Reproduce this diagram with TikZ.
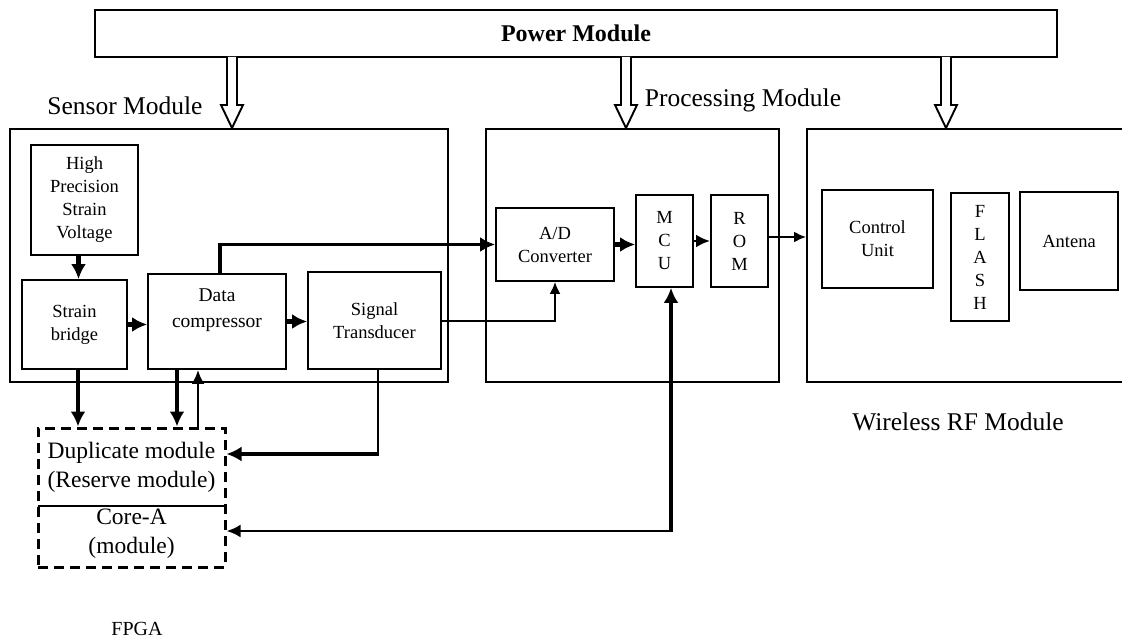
\documentclass[tikz,border=0pt]{standalone}
\usepackage{fontspec}
\setmainfont{Liberation Serif}
\usetikzlibrary{arrows.meta,calc}

\tikzset{
  block/.style={draw, line width=1.8pt, inner sep=0pt, align=center,
    font=\fontsize{18.5}{23}\selectfont},
  module/.style={draw, line width=1.9pt, inner sep=0pt},
  fpgabox/.style={draw, line width=3pt, dash pattern=on 10pt off 6pt, inner sep=0pt},
  lbl/.style={inner sep=0pt, font=\fontsize{25.5}{28}\selectfont},
  thickarr/.style={line width=4.2pt, -{Latex[length=15pt,width=15pt]}},
  midarr/.style={line width=2.8pt, -{Latex[length=14pt,width=13pt]}},
  thinarr/.style={line width=2pt, -{Latex[length=12pt,width=11pt]}},
}

\begin{document}
\begin{tikzpicture}[x=1pt,y=-1pt]
  \useasboundingbox (0,0) rectangle (1122,639);
  \clip (0,0) rectangle (1122,639);

  % power supply and the three modules
  \node[module, minimum width=962pt, minimum height=47pt,
    font=\fontsize{24}{26}\selectfont\bfseries] (power) at (576,33.5) {Power Module};
  \node[module, minimum width=438pt, minimum height=253pt] (sensor) at (229,255.5) {};
  \node[module, minimum width=293pt, minimum height=253pt] (proc) at (632.5,255.5) {};
  \node[module, minimum width=333pt, minimum height=253pt] (wireless) at (973.5,255.5) {};

  \foreach \ax in {232,626,946}
    \draw[line width=1.9pt, fill=white] (\ax-5,57) -- (\ax-5,105) -- (\ax-11,105)
      -- (\ax,128) -- (\ax+11,105) -- (\ax+5,105) -- (\ax+5,57);

  \node[lbl] (senlbl) at (125,106) {Sensor Module};
  \node[lbl] (proclbl) at (743,100) {Processing Module};
  \node[lbl] (wirelbl) at (958,422) {Wireless RF Module};

  % sensor module
  \node[block, minimum width=107pt, minimum height=110pt] (hpsv) at (84.5,200)
    {High\\Precision\\Strain\\Voltage};
  \node[block, minimum width=105pt, minimum height=89pt] (bridge) at (74.5,324.5)
    {Strain\\bridge};
  \node[block, minimum width=138pt, minimum height=95pt, font=\fontsize{19.5}{26}\selectfont]
    (compressor) at (217,321.5) {Data\\compressor\\\mbox{}};
  \node[block, minimum width=133pt, minimum height=97pt] (transducer) at (374.5,320.5)
    {Signal\\Transducer};

  % processing module
  \node[block, minimum width=118pt, minimum height=73pt] (adc) at (555,244.5)
    {A/D\\Converter};
  \node[block, minimum width=57pt, minimum height=92pt] (mcu) at (664.5,241)
    {M\\C\\U};
  \node[block, minimum width=57pt, minimum height=92pt] (rom) at (739.5,241)
    {R\\O\\M};

  % wireless RF module
  \node[block, minimum width=111pt, minimum height=98pt] (ctrl) at (877.5,239)
    {Control\\Unit};
  \node[block, minimum width=58pt, minimum height=128pt] (flash) at (980,257)
    {F\\L\\A\\S\\H};
  \node[block, minimum width=98pt, minimum height=98pt] (antenna) at (1069,241)
    {Antena};

  % FPGA
  \node[fpgabox, minimum width=187pt, minimum height=139pt] (fpga) at (131.5,497.5) {};
  \node[inner sep=0pt, minimum width=187pt, minimum height=78pt, align=center,
    font=\fontsize{23.5}{29}\selectfont] (dup) at (131.5,467)
    {Duplicate module\\(Reserve module)};
  \node[inner sep=0pt, minimum width=187pt, minimum height=61pt, align=center,
    font=\fontsize{23.5}{29}\selectfont] (core) at (131.5,534)
    {Core-A\\(module)};
  \draw[line width=1.9pt] (dup.south west) -- (dup.south east);
  \node[lbl, font=\fontsize{20}{22}\selectfont] (fpgalbl) at (137,629) {FPGA};

  % signal paths
  \draw[thickarr] ([xshift=-6pt]hpsv.south) -- ([xshift=-6pt]hpsv.south |- bridge.north);
  \draw[thickarr] (bridge.east) -- (bridge.east -| compressor.west);
  \draw[thickarr] (compressor.east) -- (compressor.east -| transducer.west);
  \draw[thickarr, line width=3.6pt] ([xshift=3pt]compressor.north) |- (adc.west);
  \draw[thinarr] (transducer.east) -| (adc.south);
  \draw[thickarr] (adc.east) -- (adc.east -| mcu.west);
  \draw[midarr] (mcu.east) -- (mcu.east -| rom.west);
  \draw[thinarr] ([yshift=4pt]rom.east) -- ([yshift=4pt]rom.east -| wireless.west);

  % links to the FPGA
  \draw[thickarr] ([xshift=3.5pt]bridge.south) -- ([xshift=3.5pt]bridge.south |- fpga.north);
  \draw[thickarr] ([xshift=-40pt]compressor.south) -- ([xshift=-40pt]compressor.south |- fpga.north);
  \draw[midarr] ([xshift=-19pt]compressor.south |- fpga.north) -- ([xshift=-19pt]compressor.south);
  \coordinate (tjoin) at (378,454);
  \draw[line width=2pt] (tjoin |- transducer.south) -- (tjoin);
  \draw[thickarr, line width=4.8pt] ([xshift=1pt]tjoin) -- (tjoin -| fpga.east);
  \coordinate (mjoin) at (671,531);
  \draw[thickarr, line width=3.8pt] ([yshift=1.4pt]mjoin) -- (mjoin |- mcu.south);
  \draw[midarr] ([xshift=1.9pt]mjoin) -- (mjoin -| fpga.east);
\end{tikzpicture}
\end{document}
